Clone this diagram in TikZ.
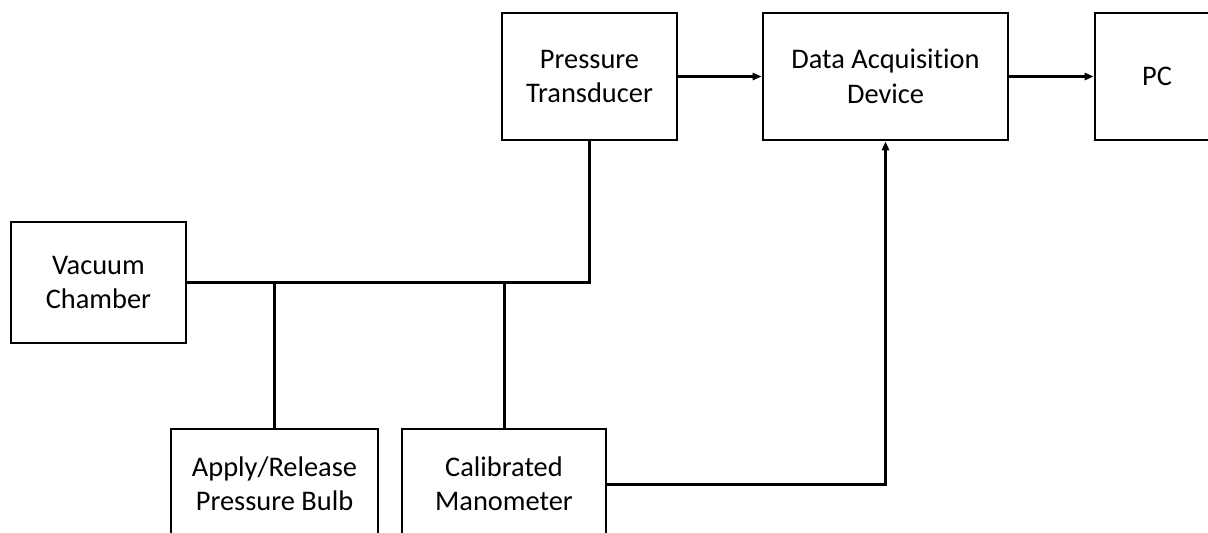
\documentclass[tikz,border=0pt]{standalone}
\usepackage{fontspec}
\setmainfont{Carlito}[Ligatures=NoCommon]
\usetikzlibrary{arrows.meta}
\begin{document}
\begin{tikzpicture}[x=0.5pt, y=-0.5pt,
	block/.style={draw, line width=1.4pt, align=center, inner sep=0pt, font=\fontsize{14.2}{17.2}\selectfont},
	link/.style={line width=1.5pt},
	feed/.style={line width=1.5pt, -{Triangle[length=4.5pt,width=3.6pt]}}]
	\useasboundingbox (0,0) rectangle (1208,532);
	
	\node[block, minimum width=87.5pt, minimum height=63.5pt] (trans) at (589.5,76.5) {Pressure\\Transducer};
	\node[block, minimum width=122.5pt, minimum height=63.5pt] (daq) at (885.5,76.5) {Data Acquisition\\Device};
	\node[block, minimum width=62pt, minimum height=63.5pt] (pc) at (1157,76.5) {PC};
	
	\node[block, minimum width=87.5pt, minimum height=60.5pt] (vac) at (98.5,282.5) {Vacuum\\Chamber};
	
	\node[block, minimum width=103.5pt, minimum height=55pt] (bulb) at (274.5,484) {Apply/Release\\Pressure Bulb};
	\node[block, minimum width=102pt, minimum height=55pt] (mano) at (504,484) {Calibrated\\Manometer};
	
	\draw[feed] (trans) -- (daq);
	\draw[feed] (daq) -- (pc);
	\draw[link] (vac.east) -- (vac.east -| trans.south) -- (trans.south);
	\draw[link] (bulb.north) -- (bulb.north |- vac.east);
	\draw[link] (mano.north) -- (mano.north |- vac.east);
	\draw[feed] (mano.east) -| (daq.south);
\end{tikzpicture}
\end{document}
